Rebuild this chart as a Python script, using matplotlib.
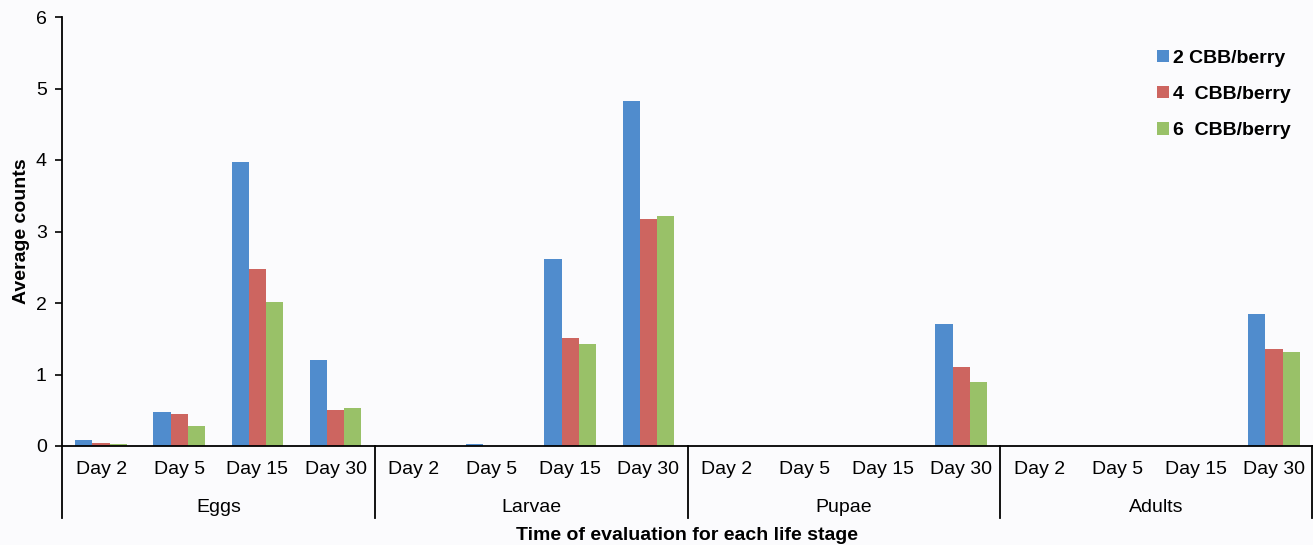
import numpy as np
import matplotlib.pyplot as plt
import matplotlib.transforms as mtransforms

plt.rcParams['font.family'] = ['Liberation Sans', 'DejaVu Sans']

# data
stages = ['Eggs', 'Larvae', 'Pupae', 'Adults']
days = ['Day 2', 'Day 5', 'Day 15', 'Day 30']
series_names = ['2 CBB/berry', '4  CBB/berry', '6  CBB/berry']
cbb2 = [0.09, 0.47, 3.97, 1.20,
        0.00, 0.03, 2.62, 4.82,
        0.00, 0.00, 0.00, 1.71,
        0.00, 0.00, 0.00, 1.85]
cbb4 = [0.04, 0.45, 2.47, 0.50,
        0.00, 0.00, 1.51, 3.17,
        0.00, 0.00, 0.00, 1.10,
        0.00, 0.00, 0.00, 1.36]
cbb6 = [0.03, 0.28, 2.01, 0.53,
        0.00, 0.00, 1.42, 3.22,
        0.00, 0.00, 0.00, 0.90,
        0.00, 0.00, 0.00, 1.31]
colors = ['#508CCD', '#CD6560', '#99C168']

bg = '#fbfbfd'
fs = 14
fig = plt.figure(figsize=(13.13, 5.45), dpi=100, facecolor=bg)
ax = fig.add_axes([62/1313, 99/545, 1251/1313, 429/545], facecolor=bg)

x = np.arange(len(cbb2))
w = 0.22
for i, (vals, name) in enumerate(zip([cbb2, cbb4, cbb6], series_names)):
    ax.bar(x + (i - 1) * w, vals, w, color=colors[i], label=name)

ax.set_xlim(-0.5, len(x) - 0.5)
ax.set_ylim(0, 6)
ax.set_yticks(range(7))
ax.tick_params(axis='y', labelsize=fs, length=5, width=1.2, direction='out', pad=6)
ax.set_xticks([])
for s in ['top', 'right']:
    ax.spines[s].set_visible(False)
ax.spines['left'].set_linewidth(1.3)
ax.spines['bottom'].set_linewidth(1.3)

trans = mtransforms.blended_transform_factory(ax.transData, ax.transAxes)
for k in range(len(x)):
    ax.text(k, -0.054, days[k % 4], transform=trans, ha='center', va='center', fontsize=fs)
for g, st in enumerate(stages):
    ax.text(g * 4 + 1.5, -0.143, st, transform=trans, ha='center', va='center', fontsize=fs)
for b in range(5):
    xb = b * 4 - 0.5
    if b == 4:
        xb = xb - 0.01
    ax.plot([xb, xb], [0, -0.168], transform=trans, color='black', lw=1.3, clip_on=False)

ax.text(0.5, -0.208, 'Time of evaluation for each life stage', transform=ax.transAxes,
        ha='center', va='center', fontsize=fs, fontweight='bold')
ax.set_ylabel('Average counts', fontsize=fs, fontweight='bold', labelpad=4)

leg = ax.legend(loc='upper right', bbox_to_anchor=(0.996, 0.965), frameon=False,
                prop={'weight': 'bold', 'size': fs}, handlelength=0.6, handleheight=0.6,
                handletextpad=0.2, labelspacing=1.0)

fig.savefig('out.png', dpi=100, facecolor=bg)
